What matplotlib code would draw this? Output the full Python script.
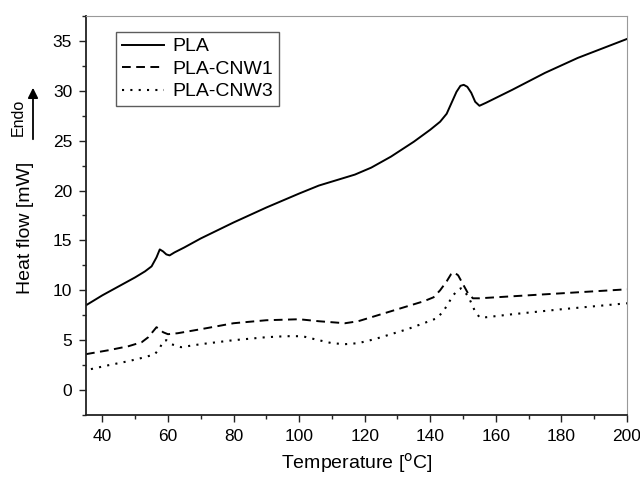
import matplotlib.pyplot as plt
from matplotlib.patches import FancyArrowPatch
from matplotlib.ticker import MultipleLocator

plt.rcParams["font.family"] = ["Liberation Sans", "DejaVu Sans"]

# PLA (solid)
t_pla = [35, 40, 45, 50, 53, 55, 56.5, 57.5, 58.5, 59.5, 60.5, 62, 65, 70, 80, 90, 100,
         106, 112, 117, 122, 128, 135, 140, 143, 145, 146.5, 148, 149.2, 150.2, 151.3,
         152.5, 153.7, 155, 157, 165, 175, 185, 200]
h_pla = [8.5, 9.5, 10.4, 11.3, 11.9, 12.4, 13.3, 14.1, 13.9, 13.6, 13.5, 13.8, 14.3, 15.2,
         16.8, 18.3, 19.7, 20.5, 21.1, 21.6, 22.3, 23.4, 24.9, 26.1, 26.9, 27.7, 28.8,
         29.9, 30.5, 30.6, 30.4, 29.8, 28.9, 28.5, 28.8, 30.1, 31.8, 33.3, 35.2]

# PLA-CNW1 (dashed)
t_cnw1 = [35, 42, 48, 52, 54, 55.5, 56.5, 57.5, 58.5, 60, 63, 70, 80, 90, 100, 106, 110,
          114, 118, 123, 127, 133, 138, 141, 143, 145, 146.3, 147.3, 148.5, 150, 151.5,
          153, 155, 165, 180, 200]
h_cnw1 = [3.6, 4.0, 4.4, 4.8, 5.3, 5.9, 6.3, 6.1, 5.8, 5.6, 5.7, 6.1, 6.7, 7.0, 7.1, 6.9,
          6.8, 6.7, 6.9, 7.4, 7.8, 8.4, 8.9, 9.3, 10.0, 10.9, 11.6, 11.8, 11.5, 10.6, 9.7,
          9.2, 9.2, 9.4, 9.7, 10.1]

# PLA-CNW3 (dotted)
t_cnw3 = [36.5, 42, 48, 53, 56, 57.5, 58.5, 59.5, 61, 64, 70, 80, 90, 96, 101, 106, 110,
          114, 118, 123, 127, 133, 138, 142, 144, 145.5, 147, 148.3, 149.3, 150.5, 152,
          153.5, 155, 157, 165, 180, 200]
h_cnw3 = [2.1, 2.5, 2.9, 3.3, 3.6, 4.2, 4.9, 5.0, 4.6, 4.3, 4.6, 5.0, 5.3, 5.4, 5.4, 5.0,
          4.7, 4.6, 4.7, 5.1, 5.5, 6.1, 6.7, 7.2, 7.9, 8.7, 9.5, 10.0, 10.2, 9.9, 9.1,
          8.0, 7.3, 7.3, 7.6, 8.1, 8.7]

fig = plt.figure(figsize=(6.4, 4.78), dpi=100)
ax = fig.add_axes([86 / 640, 1 - 415 / 478, (627 - 86) / 640, (415 - 16) / 478])

ax.plot(t_pla, h_pla, color="black", lw=1.4, label="PLA")
ax.plot(t_cnw1, h_cnw1, color="black", lw=1.4, linestyle=(0, (4.5, 2.8)), label="PLA-CNW1")
ax.plot(t_cnw3, h_cnw3, color="black", lw=1.5, linestyle=(0, (1, 3)), label="PLA-CNW3")

ax.set_xlim(35, 200)
ax.set_ylim(-2.5, 37.5)
ax.xaxis.set_major_locator(MultipleLocator(20))
ax.xaxis.set_minor_locator(MultipleLocator(10))
ax.yaxis.set_major_locator(MultipleLocator(5))
ax.yaxis.set_minor_locator(MultipleLocator(2.5))
ax.tick_params(which="major", length=5, width=1, labelsize=12.5, color="#222222", pad=5)
ax.tick_params(which="minor", length=3, width=1, color="#222222")
for side in ["left", "bottom"]:
    ax.spines[side].set_linewidth(1.3)
    ax.spines[side].set_color("#222222")
for side in ["top", "right"]:
    ax.spines[side].set_color("#999999")

ax.set_xlabel("Temperature [$^{\\rm o}$C]", fontsize=14)
ax.xaxis.set_label_coords(0.5, -0.09)
ax.set_ylabel("Heat flow [mW]", fontsize=14)
ax.yaxis.set_label_coords(-0.096, 0.469)

fig.text(18.5 / 640, 1 - 117 / 478, "Endo", rotation=90, fontsize=11.5,
         ha="center", va="center")
fig.patches.append(FancyArrowPatch(
    (33 / 640, 1 - 142 / 478), (33 / 640, 1 - 85 / 478), transform=fig.transFigure,
    arrowstyle="-|>", mutation_scale=15, color="black", lw=1.3))

leg = ax.legend(loc="upper left", bbox_to_anchor=(0.055, 0.96), borderaxespad=0,
                fontsize=14, frameon=True, fancybox=False, edgecolor="#333333",
                handlelength=2.2, borderpad=0.3, labelspacing=0.25, handletextpad=0.4)
leg.get_frame().set_linewidth(1.0)

fig.savefig("out.png", dpi=100)
